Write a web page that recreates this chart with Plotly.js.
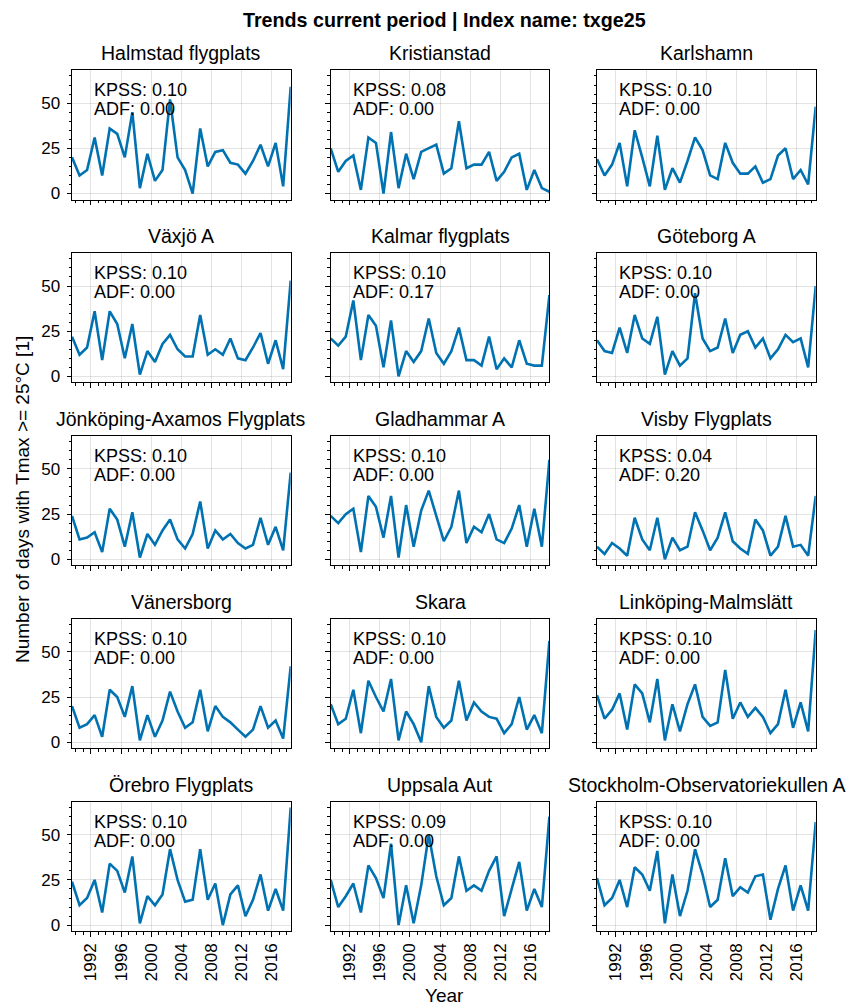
<!DOCTYPE html>
<html>
<head>
<meta charset="utf-8">
<script src="https://cdn.plot.ly/plotly-3.0.1.min.js"></script>
<style>
  html, body { margin: 0; padding: 0; background: #fff; }
  #chart { width: 850px; height: 1008px; }
</style>
</head>
<body>
<div id="chart"></div>
<script>
// Annual count of days with Tmax >= 25 °C per station
const years = [1989,1990,1991,1992,1993,1994,1995,1996,1997,1998,1999,2000,2001,2002,2003,
               2004,2005,2006,2007,2008,2009,2010,2011,2012,2013,2014,2015,2016,2017,2018];

const stations = ["Halmstad flygplats", "Kristianstad", "Karlshamn",
                  "Växjö A", "Kalmar flygplats", "Göteborg A",
                  "Jönköping-Axamos Flygplats", "Gladhammar A", "Visby Flygplats",
                  "Vänersborg", "Skara", "Linköping-Malmslätt",
                  "Örebro Flygplats", "Uppsala Aut", "Stockholm-Observatoriekullen A"];

const kpss = ["0.10", "0.08", "0.10", "0.10", "0.10", "0.10", "0.10", "0.10", "0.04",
              "0.10", "0.10", "0.10", "0.10", "0.09", "0.10"];
const adf  = ["0.00", "0.00", "0.00", "0.00", "0.17", "0.00", "0.00", "0.00", "0.20",
              "0.00", "0.00", "0.00", "0.00", "0.00", "0.00"];

const halmstad     = [20,10,13,31,10,36,33,20,45,3,22,7,13,52,20,13,0,36,15,23,24,17,16,11,18,27,15,28,4,59];
const kristianstad = [25,12,18,21,2,31,28,0,34,3,22,8,23,25,27,11,14,40,14,16,16,23,7,12,20,22,2,13,3,1];
const karlshamn    = [19,10,16,28,4,35,20,4,32,2,14,6,18,31,24,10,8,28,17,11,11,15,6,8,21,25,8,13,5,48];
const vaxjo        = [22,12,16,36,9,36,29,10,29,1,14,8,18,23,15,11,11,34,12,15,12,21,10,9,16,24,7,20,4,53];
const kalmar       = [21,17,22,42,9,34,28,5,31,0,14,8,14,32,13,7,14,27,9,9,6,22,4,10,5,20,7,6,6,45];
const goteborg     = [20,14,13,27,13,34,21,18,33,1,14,6,10,46,21,14,16,32,13,23,25,16,21,10,15,23,19,21,5,50];
const jonkoping    = [24,11,12,15,4,28,22,7,26,1,14,8,16,22,11,6,14,32,6,16,11,14,9,6,8,23,8,18,5,48];
const gladhammar   = [24,20,25,28,4,35,29,12,35,1,30,7,27,38,24,10,18,38,9,18,15,25,11,9,17,30,7,28,7,55];
const visby        = [7,3,9,6,2,23,11,5,23,0,12,5,7,26,16,5,12,26,10,6,3,22,16,2,7,24,7,8,2,35];
const vanersborg   = [20,8,10,15,3,29,25,14,31,1,15,3,12,28,17,8,11,29,6,20,14,11,7,3,7,20,8,12,2,42];
const skara        = [21,10,13,29,5,34,25,17,35,1,17,10,0,31,14,8,12,34,12,22,17,14,13,5,10,25,7,15,5,56];
const linkoping    = [26,13,18,27,7,32,27,11,35,1,21,6,21,32,14,9,11,40,13,22,14,19,14,5,10,29,8,22,6,62];
const orebro       = [24,11,15,25,7,34,30,18,38,1,16,11,17,42,25,13,14,42,14,23,0,17,22,5,14,28,8,20,8,65];
const uppsala      = [25,10,16,23,7,33,26,15,45,0,22,1,22,50,27,11,15,38,19,22,19,30,38,5,20,35,8,20,10,60];
const stockholm    = [26,11,15,25,10,32,28,19,41,1,28,5,19,42,28,10,14,37,16,21,18,27,28,3,20,33,8,22,8,57];

const series = [halmstad, kristianstad, karlshamn, vaxjo, kalmar, goteborg,
                jonkoping, gladhammar, visby, vanersborg, skara, linkoping,
                orebro, uppsala, stockholm];

// yearly values are placed mid-year on a date axis
const dates = years.map(y => y + "-07-01");

const W = 850, H = 1008;
const colLeft = [72, 330.7, 597];
const colW = 218.7;
const rowTop0 = 70, rowStep = 182.9, rowH = 129.5;
const FONT = "Liberation Sans, Arial, Helvetica, sans-serif";
const BLUE = "#0072B2";
const GRID = "rgba(0,0,0,0.11)";

const traces = [];
const layout = {
  width: W, height: H,
  margin: {l: 0, r: 0, t: 0, b: 0},
  paper_bgcolor: "#fff",
  plot_bgcolor: "#fff",
  showlegend: false,
  font: {family: FONT, color: "#000"},
  annotations: []
};

series.forEach((vals, i) => {
  const row = Math.floor(i / 3), col = i % 3;
  const n = i + 1;
  const xa = "xaxis" + (n === 1 ? "" : n);
  const ya = "yaxis" + (n === 1 ? "" : n);
  const xr = "x" + (n === 1 ? "" : n);
  const yr = "y" + (n === 1 ? "" : n);
  const left = colLeft[col];
  const top = rowTop0 + rowStep * row;
  const bottom = top + rowH;

  traces.push({
    type: "scatter", mode: "lines",
    x: dates, y: vals,
    xaxis: xr, yaxis: yr,
    line: {color: BLUE, width: 2.6},
    hoverinfo: "skip"
  });

  layout[xa] = {
    type: "date",
    domain: [left / W, (left + colW) / W],
    anchor: yr,
    range: [dates[0], dates[dates.length - 1]],
    tickmode: "linear", tick0: "1992-01-01", dtick: "M48",
    tickformat: "%Y",
    ticks: "outside", ticklen: 4.5, tickwidth: 1, tickcolor: "#000",
    showticklabels: row === 4,
    tickangle: -90,
    tickfont: {family: FONT, size: 17, color: "#000"},
    showgrid: true, gridcolor: GRID, gridwidth: 1,
    zeroline: false,
    showline: true, linecolor: "#000", linewidth: 1, mirror: true,
    minor: {dtick: "M12", tick0: "1992-01-01", ticks: "outside", ticklen: 2.5,
            tickwidth: 1, tickcolor: "#000", showgrid: false}
  };
  layout[ya] = {
    domain: [1 - bottom / H, 1 - top / H],
    anchor: xr,
    range: [-3.3, 68.3],
    tickmode: "array", tickvals: [0, 25, 50], ticktext: ["0", "25", "50"],
    ticks: "outside", ticklen: 4.5, tickwidth: 1, tickcolor: "#000",
    ticklabelstandoff: 3,
    showticklabels: col === 0,
    tickfont: {family: FONT, size: 17, color: "#000"},
    showgrid: true, gridcolor: GRID, gridwidth: 1,
    zeroline: false,
    showline: true, linecolor: "#000", linewidth: 1, mirror: true,
    minor: {dtick: 5, tick0: 0, ticks: "outside", ticklen: 2.5,
            tickwidth: 1, tickcolor: "#000", showgrid: false}
  };

  // panel title
  layout.annotations.push({
    xref: "paper", yref: "paper",
    x: (left + colW / 2) / W, y: 1 - (top - 4) / H,
    xanchor: "center", yanchor: "bottom",
    text: stations[i], showarrow: false,
    font: {family: FONT, size: 19.5, color: "#000"}
  });
  // stationarity test statistics
  layout.annotations.push({
    xref: xr + " domain", yref: yr + " domain",
    x: 20 / colW, y: 1 - 8 / rowH,
    xanchor: "left", yanchor: "top",
    text: "KPSS: " + kpss[i], showarrow: false,
    font: {family: FONT, size: 18, color: "#000"}
  });
  layout.annotations.push({
    xref: xr + " domain", yref: yr + " domain",
    x: 20 / colW, y: 1 - 27 / rowH,
    xanchor: "left", yanchor: "top",
    text: "ADF: " + adf[i], showarrow: false,
    font: {family: FONT, size: 18, color: "#000"}
  });
});

// figure title and shared axis labels
layout.annotations.push({
  xref: "paper", yref: "paper",
  x: 444 / W, y: 1 - 7 / H, xanchor: "center", yanchor: "top",
  text: "<b>Trends current period | Index name: txge25</b>", showarrow: false,
  font: {family: FONT, size: 19.7, color: "#000"}
});
layout.annotations.push({
  xref: "paper", yref: "paper",
  x: 444 / W, y: 1 - 1008 / H, xanchor: "center", yanchor: "bottom",
  text: "Year", showarrow: false,
  font: {family: FONT, size: 19, color: "#000"}
});
layout.annotations.push({
  xref: "paper", yref: "paper",
  x: 22 / W, y: 1 - 500 / H, xanchor: "center", yanchor: "middle",
  text: "Number of days with Tmax >= 25°C [1]", textangle: -90, showarrow: false,
  font: {family: FONT, size: 19, color: "#000"}
});

Plotly.newPlot("chart", traces, layout, {displayModeBar: false, staticPlot: true});
</script>
</body>
</html>
